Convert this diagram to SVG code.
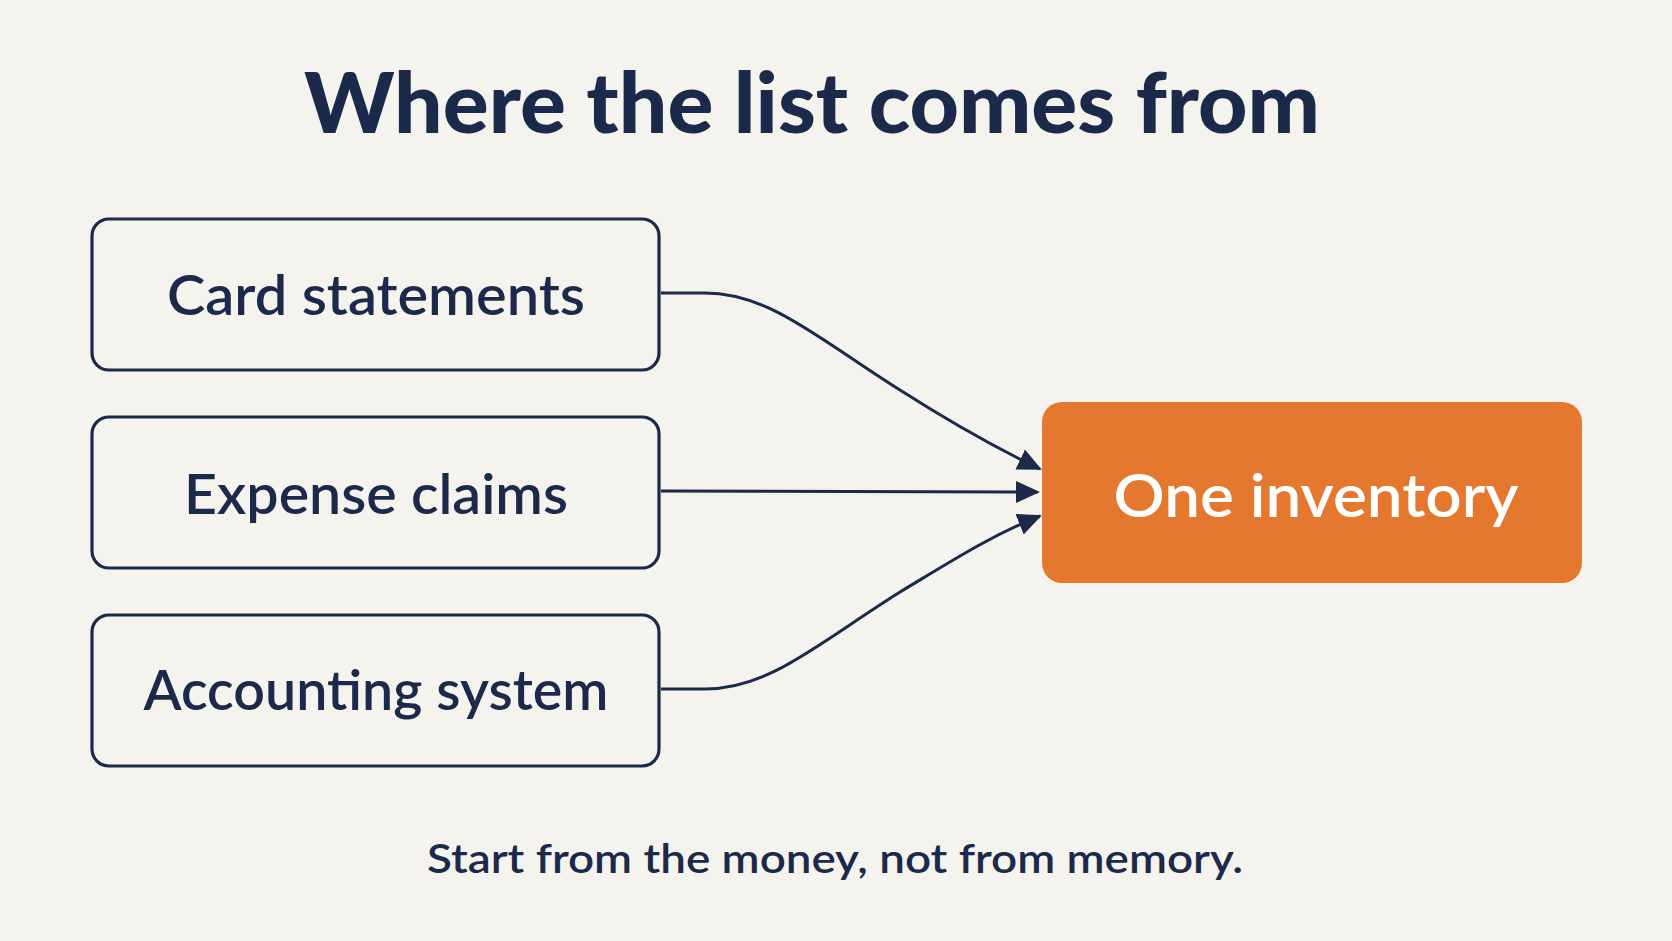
<svg xmlns="http://www.w3.org/2000/svg" width="1672" height="941" viewBox="0 0 1672 941">
<style>
.box{fill:none;stroke:#1B2A4A;stroke-width:3.2}
.lbl{font-family:Lato,"Open Sans",sans-serif;font-weight:600;font-size:56px;fill:#1B2A4A;text-anchor:middle}
.con{fill:none;stroke:#1B2A4A;stroke-width:3}
</style>
<defs><marker id="ah" viewBox="0 0 10 10" refX="9" refY="5" markerWidth="8" markerHeight="8" markerUnits="userSpaceOnUse" orient="auto" style="overflow:visible"><path d="M0 0 L10 5 L0 10 Z" fill="#1B2A4A" transform="scale(2.6) translate(-5 -5) translate(5 5)"/></marker>
<marker id="a" viewBox="0 0 24 24" refX="22" refY="12" markerWidth="24" markerHeight="24" markerUnits="userSpaceOnUse" orient="auto"><path d="M0 1 L24 12 L0 23 Z" fill="#1B2A4A"/></marker></defs>
<rect width="1672" height="941" fill="#F5F3EE"/>
<text x="812" y="133" font-family="Lato,sans-serif" font-weight="900" font-size="84" fill="#1B2A4A" text-anchor="middle" textLength="1016" lengthAdjust="spacingAndGlyphs">Where the list comes from</text>
<g id="n1"><rect class="box" x="92" y="219" width="567" height="151" rx="17"/><text class="lbl" x="376" y="315" textLength="418" lengthAdjust="spacingAndGlyphs">Card statements</text></g>
<g id="n2"><rect class="box" x="92" y="417" width="567" height="151" rx="17"/><text class="lbl" x="376" y="514" textLength="384" lengthAdjust="spacingAndGlyphs">Expense claims</text></g>
<g id="n3"><rect class="box" x="92" y="615" width="567" height="151" rx="17"/><text class="lbl" x="376" y="710" textLength="465" lengthAdjust="spacingAndGlyphs">Accounting system</text></g>
<g id="n4"><rect x="1042" y="402" width="540" height="181" rx="20" fill="#E5782F"/><text x="1316" y="517" font-family="Lato,sans-serif" font-weight="600" font-size="60" fill="#FFFFFF" text-anchor="middle" textLength="405" lengthAdjust="spacingAndGlyphs">One inventory</text></g>
<g id="connectors">
<path class="con" marker-end="url(#a)" d="M661 293 L705 293 C770 293 820 340 900 390 C950 422 990 445 1040 469"/>
<path class="con" marker-end="url(#a)" d="M661 491 L1038 492"/>
<path class="con" marker-end="url(#a)" d="M661 689 L705 689 C770 689 820 642 900 592 C950 562 990 536 1040 516"/>
</g>
<text x="835" y="873" font-family="Lato,sans-serif" font-weight="600" font-size="40" fill="#1B2A4A" text-anchor="middle" textLength="816" lengthAdjust="spacingAndGlyphs">Start from the money, not from memory.</text>
</svg>
